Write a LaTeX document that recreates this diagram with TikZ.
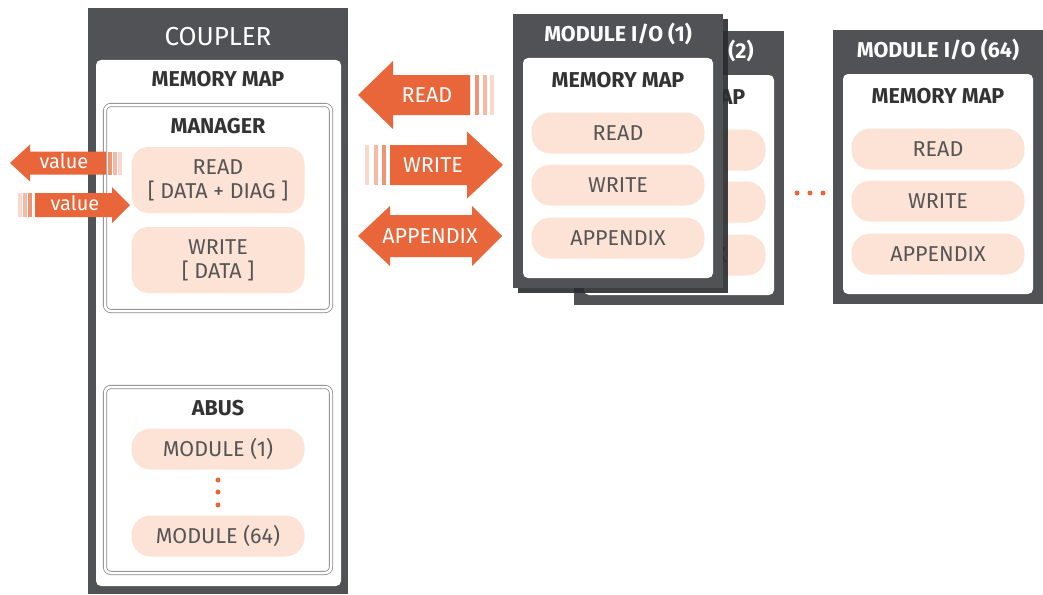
\documentclass[tikz,border=0pt]{standalone}
\usepackage{fontspec}
\setmainfont{Fira Sans}
\usetikzlibrary{shadows}

\definecolor{boxgray}{HTML}{505256}
\definecolor{shadowgray}{HTML}{2A2B2D}
\definecolor{linegray}{HTML}{8A8A8A}
\definecolor{arroworange}{HTML}{E8663A}
\definecolor{pillpeach}{HTML}{FCE3D6}
\definecolor{pilltext}{HTML}{555555}
\definecolor{titletext}{HTML}{333333}

\newcommand\headfont{\fontsize{26}{28}\selectfont}
\newcommand\titlefont{\fontsize{21.5}{24}\selectfont\bfseries}
\newcommand\pillfont{\fontsize{21.5}{24}\selectfont}
\newcommand\arrowfont{\fontsize{21.5}{24}\selectfont}

\tikzset{
  darkbox/.style={fill=boxgray},
  whitebox/.style={fill=white, rounded corners=5pt},
  framebox/.style={draw=linegray, double=white, double distance=2.5pt, line width=.8pt, rounded corners=6pt},
  pill/.style={fill=pillpeach, rounded corners=19pt, minimum width=173pt, text=pilltext, font=\pillfont, align=center, inner sep=0pt},
  title/.style={text=titletext, font=\titlefont},
  head/.style={text=white},
  arrowlabel/.style={text=white, font=\arrowfont},
  dot/.style={circle, fill=arroworange, inner sep=0pt, minimum size=5pt},
}

% tail x, tip x, y, signed head length, body half height, head half height
\newcommand\fatarrow[6]{
  \fill[arroworange] (#1, #3 - #5) -- (#2 + #4, #3 - #5) -- (#2 + #4, #3 - #6) -- (#2, #3)
    -- (#2 + #4, #3 + #6) -- (#2 + #4, #3 + #5) -- (#1, #3 + #5) -- cycle ;
}
% first x, y, half height, step
\newcommand\stripes[4]{
  \foreach \i/\c in {0/70, 1/45, 2/25}
    \fill[arroworange!\c] (#1 + \i * #4, #2 - #3) rectangle ++ (4, 2 * #3) ;
}
\newcommand\moduleio[5][]{
  \fill[darkbox, #1] (#3, #4) rectangle ++ (210, 274) ;
  \node[head, font=\titlefont] (#2-head) at (#3 + 105, #4 + 20) {MODULE I/O (#5)} ;
  \fill[whitebox] (#3 + 10, #4 + 44) rectangle ++ (190, 220) ;
  \node[title] (#2-map) at (#3 + 105, #4 + 66) {MEMORY MAP} ;
  \node[pill, minimum height=41pt] (#2-read) at (#3 + 105, #4 + 119) {READ} ;
  \node[pill, minimum height=41pt] (#2-write) at (#3 + 105, #4 + 171) {WRITE} ;
  \node[pill, minimum height=41pt] (#2-appendix) at (#3 + 105, #4 + 224) {APPENDIX} ;
}

\begin{document}
\begin{tikzpicture}[x=1pt, y=-1pt]
  \useasboundingbox (0, 0) rectangle (1043, 594) ;

  \fill[darkbox] (88, 8) rectangle (348, 594) ;
  \node[head, font=\headfont] (coupler) at (218, 37) {COUPLER} ;
  \fill[whitebox] (96, 60) rectangle (341, 586) ;
  \node[title] (couplermap) at (218, 79) {MEMORY MAP} ;

  \draw[framebox] (105, 105) rectangle (331, 311) ;
  \node[title] (manager) at (218, 126) {MANAGER} ;
  \node[pill, minimum height=66pt, rounded corners=17pt] (mgrread) at (218, 180) {READ\\{}[ DATA + DIAG ]} ;
  \node[pill, minimum height=66pt, rounded corners=17pt] (mgrwrite) at (218, 260) {WRITE\\{}[ DATA ]} ;

  \draw[framebox] (105, 387) rectangle (331, 573) ;
  \node[title] (abus) at (218, 408) {ABUS} ;
  \node[pill, minimum height=41pt] (abus1) at (218, 449) {MODULE (1)} ;
  \foreach \y in {480, 492, 505}
    \node[dot] (abusdot\y) at (218, \y) {} ;
  \node[pill, minimum height=41pt] (abus64) at (218, 536) {MODULE (64)} ;

  \fatarrow{106}{10}{163}{20}{11.5}{18.5}
  \stripes{108}{163}{11.5}{5}
  \node[arrowlabel, font=\fontsize{20}{22}\selectfont] (valueout) at (64, 161) {value} ;
  \fatarrow{35}{130}{205}{-18}{12}{18}
  \stripes{28}{205}{12}{-5}
  \node[arrowlabel, font=\fontsize{20}{22}\selectfont] (valuein) at (75, 203) {value} ;

  \fatarrow{470}{358}{95}{35}{20}{34}
  \stripes{475}{95}{20}{7.5}
  \node[arrowlabel] (readarrow) at (427, 95) {READ} ;
  \fatarrow{390}{503}{165}{-36}{20}{33.5}
  \stripes{382}{165}{20}{-8.5}
  \node[arrowlabel] (writearrow) at (433, 165) {WRITE} ;
  \fatarrow{430}{358}{236}{32}{21}{30}
  \fatarrow{430}{502}{236}{-30}{21}{30}
  \node[arrowlabel] (appendixarrow) at (430, 236) {APPENDIX} ;

  \moduleio{mod2}{574}{31}{2}
  \moduleio[drop shadow={shadow xshift=5pt, shadow yshift=-5pt, fill=shadowgray, opacity=.9}]{mod1}{513}{14}{1}
  \moduleio{mod64}{833}{30}{64}

  \foreach \x in {797, 810, 823}
    \node[dot] (moddot\x) at (\x, 193) {} ;
\end{tikzpicture}
\end{document}
